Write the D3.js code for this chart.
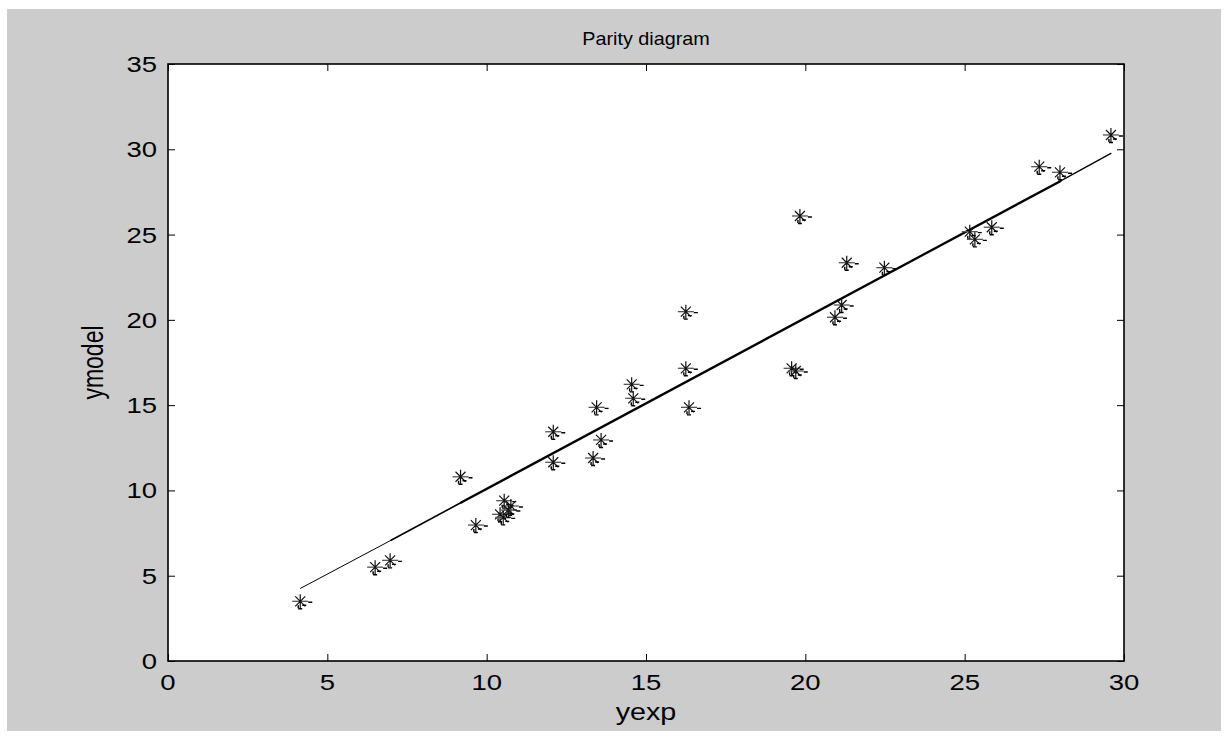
<!DOCTYPE html>
<html><head><meta charset="utf-8">
<script src="https://cdn.jsdelivr.net/npm/d3@7"></script>
<style>body{margin:0;background:#fff}svg{display:block}</style>
</head><body>
<svg id="c" width="1228" height="738"></svg>
<script>
// ---- data ----
const yexp   = [4.15, 6.50, 6.97, 9.18, 9.66, 10.55, 10.76, 10.42, 10.52, 10.68, 12.09, 12.09, 13.34, 13.59, 13.45, 14.55, 14.60, 16.25, 16.25, 16.35, 19.57, 19.70, 19.83, 20.93, 21.14, 21.30, 22.48, 25.16, 25.32, 25.85, 27.34, 27.99, 29.59];
const ymodel = [3.50, 5.50, 5.90, 10.80, 7.97, 9.40, 9.09, 8.60, 8.42, 8.85, 13.44, 11.65, 11.90, 12.96, 14.87, 16.22, 15.40, 20.48, 17.16, 14.87, 17.16, 17.00, 26.09, 20.15, 20.87, 23.35, 23.06, 25.17, 24.72, 25.43, 28.98, 28.65, 30.84];
const lineX = [4.16, 7.0, 9.2, 28.0, 29.59];
const lineY = [4.26, 7.08, 9.29, 28.13, 29.76];
const lineW = [1, 1.6, 2.3, 1.3];
const xTicks = [0, 5, 10, 15, 20, 25, 30];
const yTicks = [0, 5, 10, 15, 20, 25, 30, 35];
const titleText = "Parity diagram";
const xLabel = "yexp";
const yLabel = "ymodel";

// ---- layout ----
const L = 168, R = 1124, T = 64, B = 661;
const SX = 1.25; // horizontal stretch of the original picture's text
const svg = d3.select("#c");
const font = "'Liberation Sans', Arial, sans-serif";

svg.append("rect").attr("x", 7).attr("y", 9).attr("width", 1214).attr("height", 722).attr("fill", "#cccccc");
svg.append("rect").attr("x", L).attr("y", T).attr("width", R - L).attr("height", B - T).attr("fill", "#fff");

const x = d3.scaleLinear().domain([0, 30]).range([L, R]);
const y = d3.scaleLinear().domain([0, 35]).range([B, T]);

function styleAxis(g) {
  g.select(".domain").remove();
  g.selectAll(".tick line").attr("stroke", "#000").attr("stroke-width", 1);
}
svg.append("g").attr("transform", `translate(0,${B})`)
  .call(d3.axisBottom(x).tickValues(xTicks).tickSizeInner(-7).tickSizeOuter(0).tickFormat(""))
  .call(styleAxis);
svg.append("g").attr("transform", `translate(0,${T})`)
  .call(d3.axisTop(x).tickValues(xTicks).tickSizeInner(-7).tickSizeOuter(0).tickFormat(""))
  .call(styleAxis);
svg.append("g").attr("transform", `translate(${L},0)`)
  .call(d3.axisLeft(y).tickValues(yTicks).tickSizeInner(-7).tickSizeOuter(0).tickFormat(""))
  .call(styleAxis);
svg.append("g").attr("transform", `translate(${R},0)`)
  .call(d3.axisRight(y).tickValues(yTicks).tickSizeInner(-7).tickSizeOuter(0).tickFormat(""))
  .call(styleAxis);

// tick labels
svg.append("g").selectAll("text").data(xTicks).join("text")
  .attr("transform", d => `translate(${x(d)},${B + 29}) scale(${SX},1)`)
  .attr("text-anchor", "middle").attr("font-family", font).attr("font-size", 22).attr("fill", "#000")
  .text(d => d);
svg.append("g").selectAll("text").data(yTicks).join("text")
  .attr("transform", d => `translate(${L - 11},${y(d) + 8}) scale(${SX},1)`)
  .attr("text-anchor", "end").attr("font-family", font).attr("font-size", 22).attr("fill", "#000")
  .text(d => d);

// title & labels
svg.append("text").attr("transform", `translate(${(L + R) / 2},${45}) scale(1.1,1)`)
  .attr("text-anchor", "middle").attr("font-family", font).attr("font-size", 18).text(titleText);
svg.append("text").attr("transform", `translate(${(L + R) / 2},${720}) scale(${SX},1)`)
  .attr("text-anchor", "middle").attr("font-family", font).attr("font-size", 23).text(xLabel);
svg.append("text").attr("transform", `translate(${103},${(T + B) / 2}) rotate(-90) scale(1,${SX})`)
  .attr("text-anchor", "middle").attr("font-family", font).attr("font-size", 23).text(yLabel);

// fitted line (segments)
const segs = d3.range(lineX.length - 1).map(i => ({x0: lineX[i], y0: lineY[i], x1: lineX[i + 1], y1: lineY[i + 1], w: lineW[i]}));
svg.append("g").selectAll("line").data(segs).join("line")
  .attr("x1", d => x(d.x0)).attr("y1", d => y(d.y0))
  .attr("x2", d => x(d.x1)).attr("y2", d => y(d.y1))
  .attr("stroke", "#000").attr("stroke-width", d => d.w).attr("stroke-linecap", "round");

// markers
const pts = yexp.map((v, i) => [v, ymodel[i]]);
const r = 7, rd = 5;
const mk = svg.append("g").selectAll("g").data(pts).join("g")
  .attr("transform", d => `translate(${x(d[0])},${y(d[1])})`);
mk.append("path").attr("d", `M${-r - 1},0H${r + 1}`).attr("stroke", "#555").attr("stroke-width", 1.3);
mk.append("path").attr("d", `M0,${-r}V${r}M${-rd},${-rd}L${rd},${rd}M${-rd},${rd}L${rd},${-rd}`)
  .attr("stroke", "#111").attr("stroke-width", 1.2);
mk.append("path").attr("d", `M8,1H12M2,4H6M-2,4V7M-2,7.5H2`)
  .attr("stroke", "#000").attr("stroke-width", 1.4).attr("fill", "none");

// frame
svg.append("rect").attr("x", L).attr("y", T).attr("width", R - L).attr("height", B - T)
  .attr("fill", "none").attr("stroke", "#000").attr("stroke-width", 1.6);
</script>
</body></html>
